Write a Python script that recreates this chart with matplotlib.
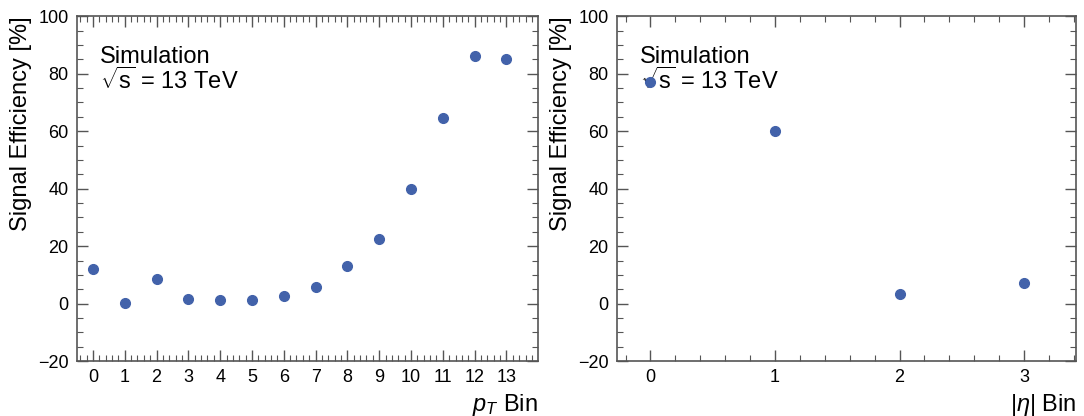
import numpy as np
import matplotlib
matplotlib.use('Agg')
import matplotlib.pyplot as plt
from matplotlib.ticker import MultipleLocator

#-- fonts: Helvetica-like look
plt.rcParams['font.family'] = ['Liberation Sans', 'DejaVu Sans']
plt.rcParams['mathtext.fontset'] = 'custom'
plt.rcParams['mathtext.rm'] = 'Liberation Sans'
plt.rcParams['mathtext.it'] = 'Liberation Sans:italic'
plt.rcParams['mathtext.bf'] = 'Liberation Sans:bold'

#-- data
pt_bins = [0, 1, 2, 3, 4, 5, 6, 7, 8, 9, 10, 11, 12, 13]
pt_eff  = [12.0, 0.2, 8.5, 1.6, 1.4, 1.2, 2.5, 5.7, 13.0, 22.4, 39.8, 64.5, 86.0, 85.0]
eta_bins = [0, 1, 2, 3]
eta_eff  = [77.0, 60.2, 3.3, 7.0]

color = '#4262aa'

fig = plt.figure(figsize=(10.84, 4.16), dpi=100)
ax1 = fig.add_axes([0.071, 0.132, 0.425, 0.829])
ax2 = fig.add_axes([0.569, 0.132, 0.424, 0.829])

def style(ax, xlim, xlabel):
    ax.set_xlim(*xlim)
    ax.set_ylim(-20, 100)
    ax.xaxis.set_major_locator(MultipleLocator(1))
    ax.xaxis.set_minor_locator(MultipleLocator(0.2))
    ax.yaxis.set_major_locator(MultipleLocator(20))
    ax.yaxis.set_minor_locator(MultipleLocator(5))
    ax.tick_params(which='both', direction='in', top=True, right=True,
                   labelsize=13, color='#555555')
    ax.tick_params(which='major', length=8, width=1.0, pad=6)
    ax.tick_params(which='minor', length=4, width=0.8)
    for sp in ax.spines.values():
        sp.set_color('#555555')
        sp.set_linewidth(1.2)
    ax.set_ylabel('Signal Efficiency [%]', fontsize=17, loc='top')
    ax.set_xlabel(xlabel, fontsize=17, loc='right')
    ax.text(0.05, 0.915, 'Simulation\n$\\sqrt{\\mathrm{s}}$ = 13 TeV', transform=ax.transAxes,
            fontsize=17, va='top', ha='left', linespacing=1.0)

ax1.plot(pt_bins, pt_eff, 'o', color=color, markersize=7, zorder=4)
style(ax1, (-0.5, 13.98), '$p_T$ Bin')

ax2.plot(eta_bins, eta_eff, 'o', color=color, markersize=7, zorder=4)
style(ax2, (-0.27, 3.42), '$|\\eta|$ Bin')

plt.savefig('out.png', dpi=100)
